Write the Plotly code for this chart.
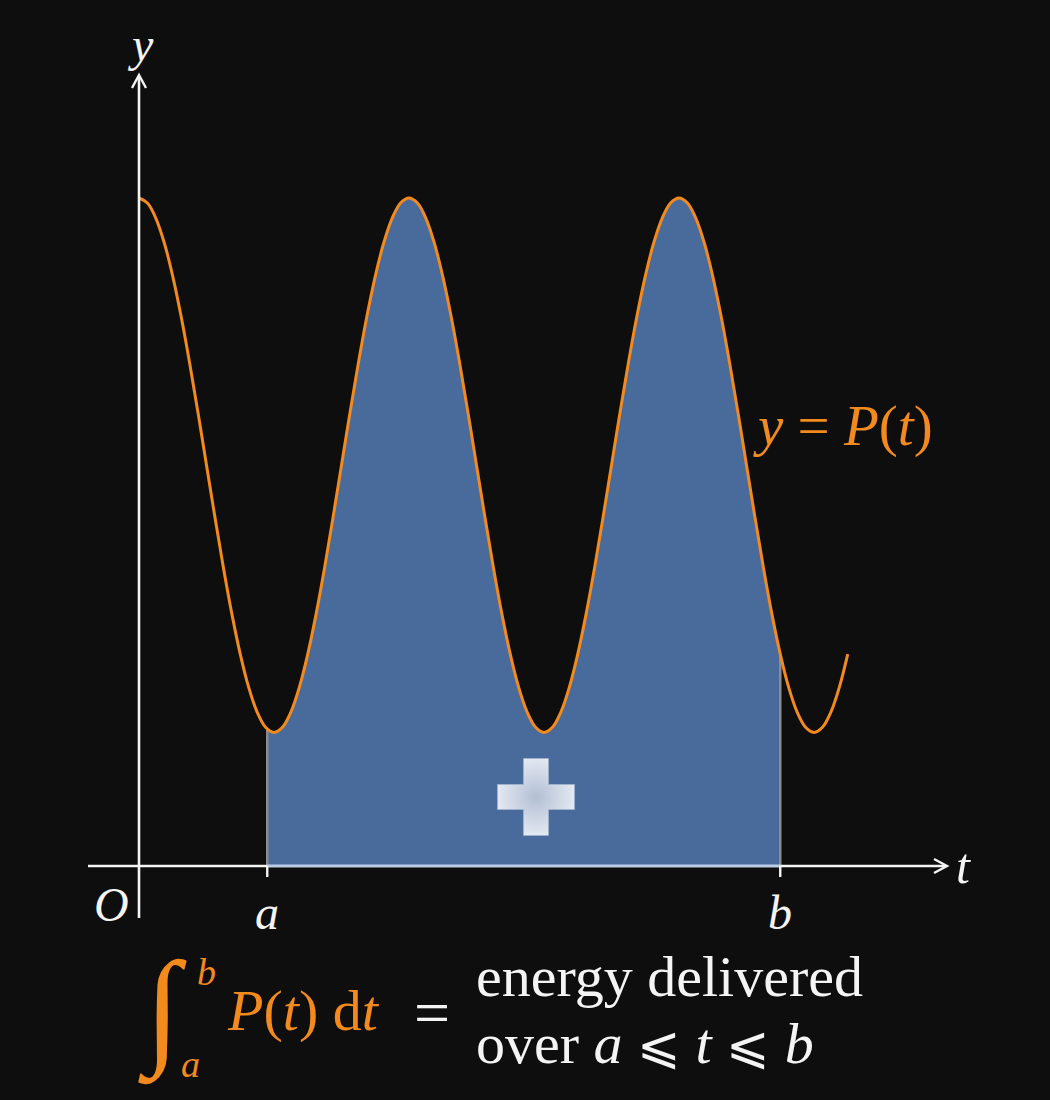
import plotly.graph_objects as go

# ---------------- data ----------------
t_vals = [0.0, 0.0625, 0.125, 0.1875, 0.25, 0.3125, 0.375, 0.4375,
          0.5, 0.5625, 0.625, 0.6875, 0.75, 0.8125, 0.875, 0.9375,
          1.0, 1.0625, 1.125, 1.1875, 1.25, 1.3125, 1.375, 1.4375,
          1.5, 1.5625, 1.625, 1.6875, 1.75, 1.8125, 1.875, 1.9375,
          2.0, 2.0625, 2.125, 2.1875, 2.25, 2.3125, 2.375, 2.4375,
          2.5, 2.5625, 2.625, 2.6875, 2.75, 2.8125, 2.875, 2.9375,
          3.0, 3.0625, 3.125, 3.1875, 3.25, 3.3125, 3.375, 3.4375,
          3.5, 3.5625, 3.625, 3.6875, 3.75, 3.8125, 3.875, 3.9375,
          4.0, 4.0625, 4.125, 4.1875, 4.25, 4.3125, 4.375, 4.4375,
          4.5, 4.5625, 4.625, 4.6875, 4.75, 4.8125, 4.875, 4.9375,
          5.0, 5.0625, 5.125, 5.1875, 5.25]
p_vals = [5.000, 4.962, 4.848, 4.663, 4.414, 4.111, 3.765, 3.390,
          3.000, 2.610, 2.235, 1.889, 1.586, 1.337, 1.152, 1.038,
          1.000, 1.038, 1.152, 1.337, 1.586, 1.889, 2.235, 2.610,
          3.000, 3.390, 3.765, 4.111, 4.414, 4.663, 4.848, 4.962,
          5.000, 4.962, 4.848, 4.663, 4.414, 4.111, 3.765, 3.390,
          3.000, 2.610, 2.235, 1.889, 1.586, 1.337, 1.152, 1.038,
          1.000, 1.038, 1.152, 1.337, 1.586, 1.889, 2.235, 2.610,
          3.000, 3.390, 3.765, 4.111, 4.414, 4.663, 4.848, 4.962,
          5.000, 4.962, 4.848, 4.663, 4.414, 4.111, 3.765, 3.390,
          3.000, 2.610, 2.235, 1.889, 1.586, 1.337, 1.152, 1.038,
          1.000, 1.038, 1.152, 1.337, 1.586]
t_a, t_b = 0.95, 4.75          # limits a and b
p_a, p_b = 1.025, 1.586        # P(a), P(b)
tick_labels = ["a", "b"]

# ---------------- geometry / style ----------------
W, H = 1050, 1100
X_PX0, Y_PX0 = 139, 866        # pixel position of origin
SX, SY = 135.0, 133.6          # pixels per unit
BG = "#0e0e0e"
ORANGE = "#f28a1e"
BLUE = "#486b9b"
WHITE = "#f4f4f4"
SERIF = "'Liberation Serif', 'DejaVu Serif', serif"

def dx(px):  # pixel -> data x
    return (px - X_PX0) / SX

def dy(py):  # pixel -> data y
    return (Y_PX0 - py) / SY

def fx(px):
    return px / W

def fy(py):
    return 1 - py / H

fig = go.Figure()

# filled area between a and b
fill_t = [t_a] + [t for t in t_vals if t_a < t < t_b] + [t_b]
fill_p = [p_a] + [p for t, p in zip(t_vals, p_vals) if t_a < t < t_b] + [p_b]
fig.add_trace(go.Scatter(x=fill_t, y=fill_p, mode="lines", line=dict(width=0, shape="spline"),
                         fill="tozeroy", fillcolor=BLUE, hoverinfo="skip", showlegend=False))

# vertical edges at a and b
for tt, pp in [(t_a, p_a), (t_b, p_b)]:
    fig.add_trace(go.Scatter(x=[tt, tt], y=[0, pp], mode="lines",
                             line=dict(color="#8c8c8c", width=2.5), hoverinfo="skip", showlegend=False))

# curve
fig.add_trace(go.Scatter(x=t_vals, y=p_vals, mode="lines",
                         line=dict(color=ORANGE, width=3, shape="spline"),
                         hoverinfo="skip", showlegend=False))

# plus sign with radial gradient
cx, cy = dx(536), dy(797)
L, T = 38.5, 12.5
px_pts = [(-T, -L), (T, -L), (T, -T), (L, -T), (L, T), (T, T), (T, L), (-T, L), (-T, T), (-L, T), (-L, -T), (-T, -T), (-T, -L)]
fig.add_trace(go.Scatter(x=[cx + a / SX for a, b in px_pts], y=[cy + b / SY for a, b in px_pts],
                         mode="lines", line=dict(color="#9fb0cc", width=1),
                         fill="toself",
                         fillgradient=dict(type="radial", colorscale=[[0, "#b3bfd4"], [1, "#e3e8f1"]]),
                         hoverinfo="skip", showlegend=False))

shapes = []
# x axis
shapes.append(dict(type="line", xref="x", yref="y", x0=dx(88), x1=dx(946), y0=0, y1=0,
                   line=dict(color=WHITE, width=2.6), layer="above"))
# light edge of fill along axis
shapes.append(dict(type="line", xref="x", yref="y", x0=t_a, x1=t_b, y0=0, y1=0,
                   line=dict(color="#b9cde9", width=2.6), layer="above"))
# x arrow head
shapes.append(dict(type="path", xref="x", yref="y",
                   path=f"M {dx(934)} {dy(859)} L {dx(947)} {dy(866)} L {dx(934)} {dy(873)}",
                   line=dict(color=WHITE, width=2.4), layer="above"))
# y axis
shapes.append(dict(type="line", xref="x", yref="y", x0=0, x1=0, y0=dy(918), y1=dy(76),
                   line=dict(color=WHITE, width=2.6), layer="above"))
shapes.append(dict(type="path", xref="x", yref="y",
                   path=f"M {dx(132)} {dy(88)} L {dx(139)} {dy(75)} L {dx(146)} {dy(88)}",
                   line=dict(color=WHITE, width=2.4), layer="above"))
# ticks at a and b
for tt in (t_a, t_b):
    shapes.append(dict(type="line", xref="x", yref="y", x0=tt, x1=tt, y0=0, y1=dy(877),
                       line=dict(color=WHITE, width=2.4), layer="above"))

ann = []
def A(x, y, text, size, color=WHITE, xanchor="center", yanchor="middle", xref="paper", yref="paper"):
    ann.append(dict(x=x, y=y, xref=xref, yref=yref, text=text, showarrow=False,
                    font=dict(family=SERIF, size=size, color=color),
                    xanchor=xanchor, yanchor=yanchor))

A(fx(140), fy(44), "<i>y</i>", 48)
A(fx(963), fy(866), "<i>t</i>", 50)
A(fx(111), fy(904), "<i>O</i>", 48)
A(t_a, fy(912), f"<i>{tick_labels[0]}</i>", 48, xref="x")
A(t_b, fy(912), f"<i>{tick_labels[1]}</i>", 48, xref="x")
A(fx(751), fy(426), "<i>y</i> = <i>P</i>(<i>t</i>)", 57, color=ORANGE, xanchor="left")

# integral formula
A(fx(162), fy(1010), "∫", 128, color=ORANGE)
A(fx(206), fy(972), "<i>b</i>", 38, color=ORANGE)
A(fx(190), fy(1064), "<i>a</i>", 38, color=ORANGE)
A(fx(225), fy(1010), "<i>P</i>(<i>t</i>) d<i>t</i>", 58, color=ORANGE, xanchor="left")
A(fx(432), fy(1012), "=", 64)
LEQ = '<span style="font-size:52px">⩽</span>'
A(fx(474), fy(976), "energy delivered", 58, xanchor="left")
A(fx(474), fy(1043), f"over <i>a</i> {LEQ} <i>t</i> {LEQ} <i>b</i>", 58, xanchor="left")

fig.update_layout(
    width=W, height=H, autosize=False,
    margin=dict(l=0, r=0, t=0, b=0),
    paper_bgcolor=BG, plot_bgcolor=BG,
    font=dict(family=SERIF),
    xaxis=dict(range=[dx(0), dx(W)], visible=False, fixedrange=True),
    yaxis=dict(range=[dy(H), dy(0)], visible=False, fixedrange=True),
    shapes=shapes, annotations=ann, showlegend=False,
)

fig.write_html("out.html", config={"displayModeBar": False},
               post_script="document.body.style.margin='0';document.body.style.background='#0e0e0e';")
